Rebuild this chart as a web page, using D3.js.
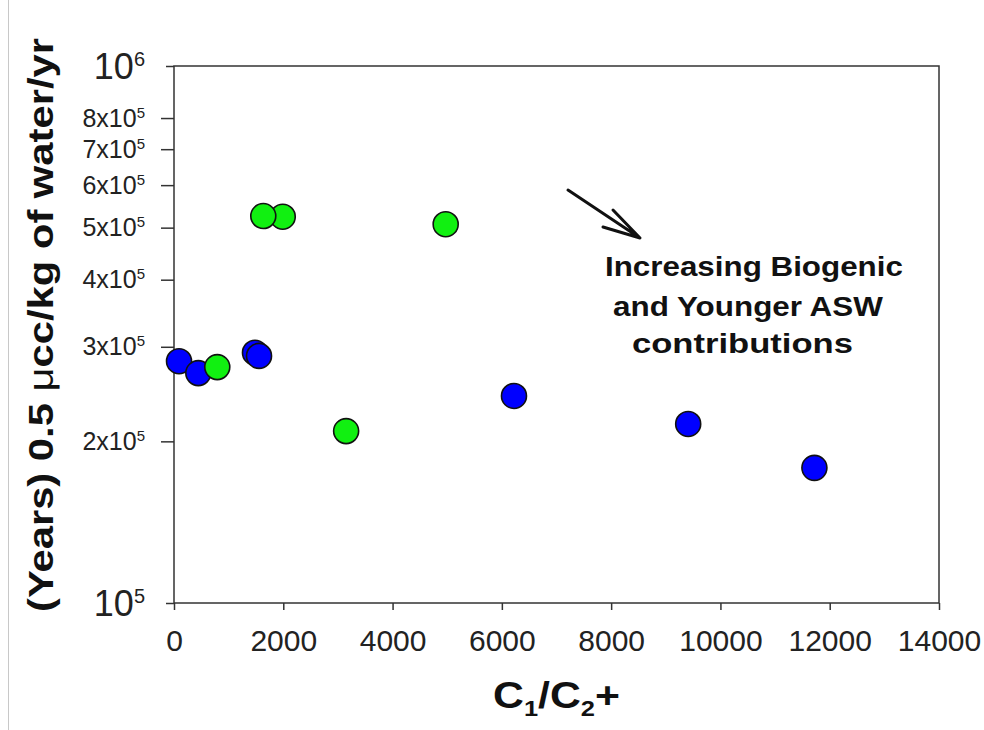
<!DOCTYPE html>
<html lang="en">
<head>
    <meta charset="UTF-8">
    <script src="https://d3js.org/d3.v7.min.js"></script>
    <title>Age vs C1/C2+</title>
    <style>
        body {
            margin: 0;
            overflow: hidden;
            background: white;
        }

        text {
            font-family: "Liberation Sans", Arial, sans-serif;
        }
    </style>
</head>
<body>
    <script>
        // values
        const blueX = [92, 445, 1482, 1556, 6222, 9410, 11720];
        const blueY = [282000, 268000, 292500, 288500, 243000, 215500, 178500];
        const greenX = [792, 1990, 1634, 3150, 4972];
        const greenY = [275000, 524000, 525500, 209000, 507500];

        const xTicks = [0, 2000, 4000, 6000, 8000, 10000, 12000, 14000];
        const yTicks = [1e5, 2e5, 3e5, 4e5, 5e5, 6e5, 7e5, 8e5, 1e6];
        const annotation = ["Increasing Biogenic", "and Younger ASW", "contributions"];

        const width = 984,
              height = 730;

        const margin = { top: 66, left: 174, right: 45, bottom: 127 };

        const svg = d3.select('body')
            .append('svg')
            .attr('width', width)
            .attr('height', height);

        // faint edge line of the original image
        svg.append('line')
            .attr('x1', 8.5).attr('x2', 8.5)
            .attr('y1', 0).attr('y2', height)
            .attr('stroke', '#c8c8c8')
            .attr('stroke-width', 1);

        const x = d3.scaleLinear()
            .domain([0, 14000])
            .range([margin.left, width - margin.right]);

        const y = d3.scaleLog()
            .domain([1e5, 1e6])
            .range([height - margin.bottom, margin.top]);

        // x axis
        const xAxis = d3.axisBottom(x)
            .tickValues(xTicks)
            .tickFormat(d3.format("d"))
            .tickSize(7)
            .tickSizeOuter(0)
            .tickPadding(20);

        const xAxisGroup = svg.append('g')
            .attr('transform', `translate(0, ${height - margin.bottom})`)
            .call(xAxis);
        xAxisGroup.select('.domain').remove();
        xAxisGroup.selectAll('.tick line').attr('stroke', '#333').attr('stroke-width', 1.5);
        xAxisGroup.selectAll('.tick text')
            .attr('font-size', 30)
            .attr('font-family', '"Liberation Sans", Arial, sans-serif')
            .attr('fill', '#222');

        // y axis (log)
        const isMajor = d => d === 1e5 || d === 1e6;
        const yAxis = d3.axisLeft(y)
            .tickValues(yTicks)
            .tickSize(8)
            .tickSizeOuter(0);

        const yAxisGroup = svg.append('g')
            .attr('transform', `translate(${margin.left}, 0)`)
            .call(yAxis);
        yAxisGroup.select('.domain').remove();
        yAxisGroup.selectAll('.tick line')
            .attr('x2', d => isMajor(d) ? -8 : -13)
            .attr('stroke', '#333')
            .attr('stroke-width', 1.5);

        yAxisGroup.selectAll('.tick text').each(function(d) {
            const t = d3.select(this)
                .text(null)
                .attr('x', -29)
                .attr('dy', null)
                .attr('text-anchor', 'end')
                .attr('font-family', '"Liberation Sans", Arial, sans-serif')
                .attr('fill', '#222');
            const exp = Math.floor(Math.log10(d) + 1e-9);
            const mant = Math.round(d / Math.pow(10, exp));
            if (isMajor(d)) {
                t.attr('y', 12).attr('font-size', 36);
                t.append('tspan').text('10');
                t.append('tspan').attr('font-size', 20).attr('dy', -13).text(exp);
            } else {
                t.attr('y', 8).attr('font-size', 25);
                t.append('tspan').text(mant + 'x10');
                t.append('tspan').attr('font-size', 15).attr('dy', -9).text(exp);
            }
        });

        // frame
        svg.append('rect')
            .attr('x', margin.left)
            .attr('y', margin.top)
            .attr('width', width - margin.left - margin.right)
            .attr('height', height - margin.top - margin.bottom)
            .attr('fill', 'none')
            .attr('stroke', '#333')
            .attr('stroke-width', 1.5);

        // points
        const points = blueX.map((v, i) => ({ x: v, y: blueY[i], c: '#0000ff' }))
            .concat(greenX.map((v, i) => ({ x: v, y: greenY[i], c: '#11f011' })));

        svg.selectAll('circle.pt')
            .data(points)
            .enter()
            .append('circle')
            .attr('class', 'pt')
            .attr('cx', d => x(d.x))
            .attr('cy', d => y(d.y))
            .attr('r', 12.5)
            .attr('fill', d => d.c)
            .attr('stroke', '#111')
            .attr('stroke-width', 1.6);

        // stretch a text element horizontally to a target width
        const fitWidth = (sel, x0, y0, w, rot) => {
            const len = sel.node().getComputedTextLength();
            const sx = w / len;
            sel.attr('transform', `translate(${x0}, ${y0})${rot ? ' rotate(-90)' : ''} scale(${sx}, 1)`);
        };

        // annotation arrow
        svg.append('path')
            .attr('d', 'M568,190 L640,238 M613,210 L640,238 L603,227')
            .attr('fill', 'none')
            .attr('stroke', '#111')
            .attr('stroke-width', 3)
            .attr('stroke-linecap', 'round')
            .attr('stroke-linejoin', 'round');

        const annoPos = [[605, 276, 298], [613, 316, 270], [632, 353, 221]];
        annotation.forEach((line, i) => {
            const t = svg.append('text')
                .attr('font-size', 28)
                .attr('font-weight', 'bold')
                .attr('fill', '#111')
                .text(line);
            fitWidth(t, annoPos[i][0], annoPos[i][1], annoPos[i][2], false);
        });

        // x axis title
        const xt = svg.append('text')
            .attr('font-size', 37)
            .attr('font-weight', 'bold')
            .attr('fill', '#111');
        xt.append('tspan').text('C');
        xt.append('tspan').attr('font-size', 22).attr('dy', 8).text('1');
        xt.append('tspan').attr('dy', -8).text('/C');
        xt.append('tspan').attr('font-size', 22).attr('dy', 8).text('2');
        xt.append('tspan').attr('dy', -8).text('+');
        fitWidth(xt, 493, 708, 127, false);

        // y axis title
        const yt = svg.append('text')
            .attr('font-size', 35)
            .attr('font-weight', 'bold')
            .attr('fill', '#111')
            .attr('text-anchor', 'middle');
        yt.append('tspan').text('(Years) 0.5 ');
        yt.append('tspan').attr('font-weight', 'normal').text('\u03bc');
        yt.append('tspan').text('cc/kg of water/yr');
        fitWidth(yt, 53, 325, 574, true);
    </script>
</body>
</html>
